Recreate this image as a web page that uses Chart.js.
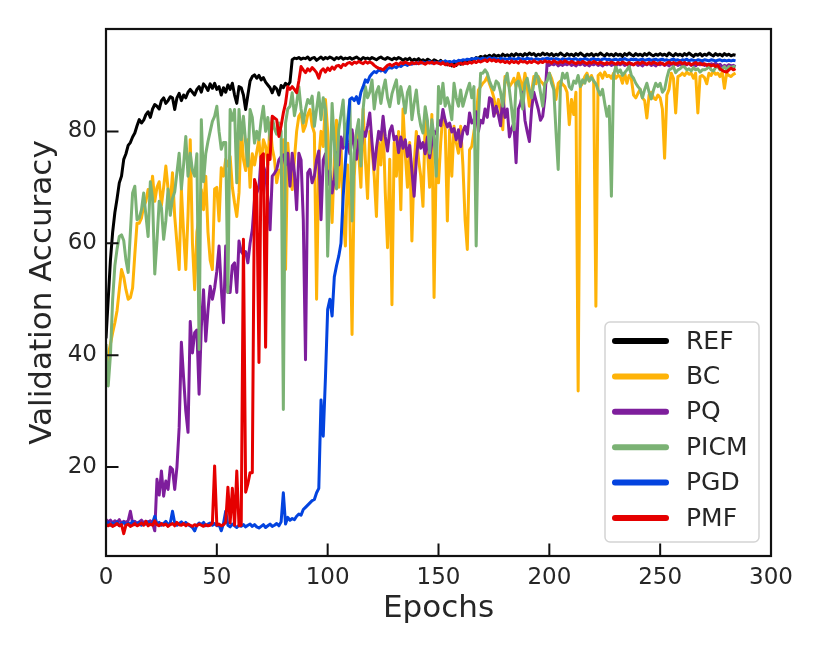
<!DOCTYPE html>
<html><head><meta charset="utf-8">
<script src="https://cdn.jsdelivr.net/npm/chart.js@4.4.1/dist/chart.umd.min.js"></script>
<style>html,body{margin:0;padding:0;background:#fff}#wrap{width:822px;height:658px}</style>
</head><body><div id="wrap"><canvas id="c" width="822" height="658"></canvas></div>
<script>
const seriesNames = ['REF','BC','PQ','PICM','PGD','PMF'];
const xTicks = [0,50,100,150,200,250,300];
const yTicks = [20,40,60,80];

const REF = [
43,50,57,62,65.5,68,70.8,72,75,76,
77.5,78,79,79.7,81,82.1,81.5,82,83,83.5,
82.5,84,84.8,84.5,84,85.5,86,85,85.5,86.2,
86,83.9,86,86.8,85.5,86.5,86,87,87.5,87,
86.5,87.5,88,87,88.5,88,87.3,88.5,87.7,88.6,
87.5,88,86.5,87.8,87,88.3,87.5,88.6,86.5,85,
88,87.8,86.5,83.9,86.5,89,89.8,90.1,89.5,90,
89.2,89.6,88.8,88.3,87.8,86.9,88,87.6,86.5,88.2,
87.8,88.6,88.2,88.8,92.8,93.1,93,93.2,92.9,93.1,
93,93.3,92.8,93.1,93.2,92.7,93,93.3,92.9,93.2,
93,93.3,93.1,92.8,93.2,93,93.3,92.9,93.1,93,
93.2,92.9,93.1,93.3,93,92.8,93.2,93,93.1,92.9,
93.2,93,92.8,93.1,93.3,93,92.9,93.2,93,92.8,
93.1,92.9,93.2,93,92.7,93,92.8,93.1,92.6,92.9,
92.7,93,92.6,92.8,92.5,92.9,92.7,92.4,92.8,92.6,
92.3,92.7,92.2,92.5,91.9,92.4,91.7,92.2,91.8,92.3,
92,92.5,92.2,92.8,92.5,93,92.7,93.2,93,93.4,
93.2,93.5,93.3,93.6,93.3,93.7,93.4,93.6,93.3,93.8,
93.5,93.7,93.4,93.8,93.5,93.9,93.6,93.8,93.5,93.9,
93.6,94,93.7,93.9,93.5,93.8,93.6,94,93.7,93.9,
93.6,93.9,93.5,93.8,93.6,94,93.7,93.5,93.9,93.6,
93.8,93.5,93.9,93.6,94,93.7,93.4,93.8,93.6,93.9,
93.5,93.8,93.6,94,93.7,93.5,93.9,93.6,93.8,93.5,
93.9,93.6,93.8,93.4,93.9,93.6,94,93.7,93.5,93.9,
93.6,93.8,93.5,93.9,93.6,94,93.7,93.5,93.8,93.6,
93.9,93.6,93.8,93.5,94,93.7,93.5,93.9,93.6,93.8,
93.5,93.9,93.6,94,93.7,93.4,93.8,93.6,93.9,93.5,
93.8,93.6,94,93.7,93.5,93.9,93.6,93.8,93.5,93.9,
93.6,93.8,93.5,93.7,93.6];

const BC = [
34.5,40,42,44,45.8,48,51.7,55.3,54,51.7,
50,50.3,52,58,63.6,63.6,64.5,66.6,67.5,69.6,
68,72,67.5,70,71,66.8,70,73.8,69.7,67,
72.6,64.8,60,55.3,69.7,62,55.3,65,78.5,60,
51.7,62,64.5,69.6,66,72,62,57,55.3,69.7,
70,64,73.5,72,75,73.8,75.5,70,67.2,64.8,
69,80.9,75,73,78.5,70,76,74,76.3,78.5,
74,78.5,77.3,74,81.5,77,75,70.8,73,73.2,
78.5,55.3,77.9,72,69.6,75,80,82.7,83.3,80,
81,83,83.9,81,79.7,50,75,80,77.3,85.7,
80,72,63.7,75,82,70,78,65,59.5,74,
66,43.7,72,80,76,70,84,75,68,80,
77,72,64.8,78,74,82,69,59.2,75,49,
78,72,80,66,84,76,70,78,60.4,74,
80,75,72,66.6,82,77,70,83,50.3,76,
70.8,78,83.3,80.9,64,80.3,72,80.9,78,76.1,
80.9,74,64.2,58.9,76.7,77.3,80,82.1,87.4,88,
88.6,89,89.8,88.5,87.4,86,83.3,85.7,84,80.3,
89.8,89,88,88.6,89.5,88,90.4,89,87.4,90.4,
88,84.5,87,89.8,88.5,89.8,89,88.6,88,89.5,
90.4,89.5,88,85.7,88.6,89,88.4,88,87,81.2,
85.7,83,87,33.6,88,88.6,89.8,90.4,89,90,
89,48.75,90,90.4,89.5,90.6,89.8,90,89.5,90.4,
89.5,90,89.8,88.6,90.4,88.6,90,89.4,86.5,86,
86.8,87.5,86,85.5,82.4,86.5,87,86,85.7,86.5,
86,84,75.2,86.5,87.5,90.4,89.5,83.3,89.8,90,
90.4,90,90.6,90.2,90.4,89.5,90.4,83.3,89.8,90,
89.6,88.5,90.4,90,90.8,90.2,90.4,89.8,90.6,87.7,
90.4,90,89.8,90.2,90.4];

const PQ = [
10.6,10.2,10.5,10,10.4,10.1,10.6,9.9,10.3,10.1,
10.4,12.1,10,10.3,9.9,10.2,10.5,10,10.3,10.1,
10.4,10,8.6,17.8,15,19.3,14.8,17.5,16,20,
19.6,16,20,27,42.3,36,30,26.2,46,40.4,
44,44.5,33,45,51.7,42.5,48,52.3,50,52,
55,59.5,52,45.8,59.5,51.2,51.2,56,56.5,51.2,
60.4,58.5,58,58.5,56.5,60,62.4,67.8,69,70,
75.5,73.8,72.6,68,62.4,72,72.5,73.2,74.9,75.5,
75.8,74,76.1,70.2,76.1,72.6,66,76.1,74.9,64.2,
39.2,72.6,73.2,70.8,72,74.9,76.5,64.2,74.9,76,
70.5,73,69,71.4,76.2,74,79,77,80.5,78,
76,80.3,77,75,78.5,76.5,80,79.1,81,83.3,
78,73.2,77,80,78.5,82.7,79,76.5,80,81,
78.5,79.1,76.2,79,77,78.5,75.5,77.5,73,68.4,
75,79.1,77,78,76,79,75.3,78,80,79.5,
82,81,83.9,82,80.8,81.5,79.9,80.5,78.5,80.3,
77.3,80,80.9,79.5,83.3,81.5,82,83.5,80,82,
81.5,84,82.5,86,85.7,82.7,84.5,83,81,86.3,
82.5,84,79,80.5,81.5,74.4,84,85,87,82,
80,78.2,84,87,85.5,84,82,82.7,86,92.2,
91.8,92.1,91.9,92.2,91.7,92,91.8,92.1,91.9,92.2,
91.8,92,91.7,92.1,91.9,92.2,91.8,92,91.7,92.1,
91.9,92.2,91.8,92,91.7,92.1,91.9,92.2,91.8,92,
91.7,92.1,91.9,92.2,91.8,92,91.7,92.1,91.9,92.2,
91.8,92,91.7,92.1,91.9,92.2,91.8,92,91.7,92.1,
91.9,92.2,91.8,92,91.7,92.1,91.9,92.2,91.8,92,
91.7,92.1,91.9,92.2,91.8,92,91.7,92.1,91.9,92.2,
91.8,92,91.7,92.1,91.9,92.2,91.8,92,91.5,91.8,
91.6,91.9,91.7,91.8,91.6];

const PICM = [
42,34.5,40,50,56,59,61.2,61.5,60.5,57,
54.8,62,69,70.2,64.2,64.5,66,69,65,61.2,
71,68,54.5,60.5,67.5,66.4,60.7,64,69.7,65,
68,69.2,72.6,76.1,69.7,74,79.1,72,76.1,73,
72,76,41,82.1,71,76,78.2,80,81.8,82.7,
84.5,80,76.8,78,78,51.2,83.9,82,83.9,70.8,
83.9,78.5,82.7,78,73.8,83.9,82.5,77.9,80,78.5,
82,84.5,80,82.5,78.5,82.5,80.5,79.5,81.5,80,
30.3,81.5,84,84.5,86.9,82.8,85,88,84,81.5,
84,85.7,85,86.3,80.9,84,86.9,82.1,86,84,
57.7,70.6,85,78,69.7,80.3,83,85.6,77.5,82,
85.6,64,76.1,80,82.1,73.8,84,88,86,87,
89.2,84,87,88,85,87.5,89.2,86,84.4,86.7,
88,89.2,85,88,86,83.3,87,88,82.1,85,
87.4,83.3,81,79.7,84.4,82,76.1,82.1,79,72,
88,85,88.6,84.5,86,84.5,82.1,88.6,86,84.5,
87.4,84.5,86,87.4,88.6,86,88,59.5,82,90.4,
90.4,91,90.4,89,88,87.4,89,88.6,87,84.5,
89,90.4,87.4,84,80.3,88.6,89,87.4,84,88.6,
89.5,87.4,86,88.6,90.4,89.5,87,84.5,88.6,89,
90.4,88.6,87.5,80,73.2,88,90.4,89.5,90.4,88,
87.5,89,88.6,90,88,89.2,88.6,90,89,89.6,
89,88.5,87.4,86.5,87.5,85,82.7,84.5,68.4,90,
91.6,90.5,91,90,90.5,91,91.6,90,89.5,88.6,
88,87.5,86,87.5,88.6,87,85.8,87.4,88.6,88,
88.6,87,87.5,89.5,91,91.2,91.6,90.5,91,91.2,
91.6,91.5,91,91.2,90.8,91.4,91,91.2,90.6,91,
91,91.2,91.6,91,90.8,91.4,91.6,91,91.2,91.6,
91,91.6,91.4,91.6,91.6];

const PGD = [
9.8,10.1,9.6,10,9.7,10.2,9.5,9.9,10.1,9.6,
10,9.8,10.3,9.7,9.9,10.1,9.6,10,9.8,10.2,
9.7,10,11.2,9.8,10.1,9.6,9.9,10.3,9.7,10,
12.1,10,9.6,9.9,10.2,9.8,10.1,9.7,9.5,9.2,
8.6,9.6,10,9.7,10.1,9.5,9.8,10,9.6,9.9,
9.5,9.7,8.6,9.9,12.1,9.6,9.3,9.8,9.5,9.2,
9.6,9.4,9.7,9.3,9.6,9.8,9.4,9.7,9.3,9.1,
9.4,9.7,9.2,9.5,9.8,9.4,9.6,9.9,9.5,10.2,
15.4,9.8,11,10.5,10.8,10.6,11.2,11.6,11.4,12.4,
12.8,13.2,13.6,14,14.2,15.4,16.2,32,25.5,36,
48.2,50,47,54,56,57.7,60,68.4,74.4,80,
85.7,86,85.5,86.2,85,87,88,89.2,88.8,89.8,
90.3,90.7,90.5,91,90.8,91,90.6,91.2,91.4,91.3,
91.6,91.4,91.8,91.6,91.9,92,91.8,92.1,92,92.2,
92.1,92.3,92.2,92.4,92.2,92.3,92.5,92.2,92.4,92.3,
92.2,92.5,92.3,92.6,92.4,92.5,92.3,92.6,92.4,92.7,
92.6,92.8,92.7,92.9,92.8,93,92.9,93.1,93,92.9,
93.1,92.9,93,93.2,92.9,93.1,93,92.8,93.1,92.9,
93,92.8,93.1,92.9,93,92.8,93.1,92.9,93,92.8,
93.1,92.9,93,92.7,93,92.9,92.8,93,92.9,93.1,
92.9,93,92.8,93,92.9,92.7,93,92.8,92.9,93,
92.8,92.9,93,92.7,92.9,92.8,93,92.9,92.7,92.9,
93,92.8,92.9,92.7,92.9,93,92.8,92.9,92.7,92.8,
92.9,92.7,92.9,92.8,93,92.8,92.7,92.9,92.8,92.9,
92.7,92.8,92.9,92.7,92.8,92.9,92.7,92.8,92.9,92.7,
92.8,92.9,92.7,92.8,92.6,92.8,92.9,92.7,92.8,92.6,
92.8,92.7,92.9,92.6,92.8,92.7,92.6,92.8,92.7,92.6,
92.8,92.7,92.6,92.8,92.7,92.6,92.7,92.8,92.6,92.7,
92.6,92.7,92.6,92.7,92.6];

const PMF = [
9.7,9.5,9.8,9.4,9.6,9.9,9.5,9.7,8.1,9.6,
9.8,9.4,9.6,9.9,9.5,9.7,10,9.6,10.3,9.5,
9.8,9.6,10.4,9.7,9.5,9.9,9.6,9.8,9.4,9.7,
9.9,9.5,10.1,9.7,9.6,9.9,9.5,9.8,9.6,9.4,
9.7,9.5,9.8,9.6,9.4,9.7,9.5,9.6,10,20.2,
9.6,9.8,9.5,9.7,10.1,16.4,10,16.2,9.6,19.3,
9.5,9.6,60.7,15.5,17,19,19,71.4,70,38.7,
75.5,76,41.4,75.8,75,82.7,82.4,82.1,79.1,81,
83.3,85,88,87.5,88,87.5,86.9,89,91.6,91,
90.5,91.2,90.8,91.4,91,90.5,89.5,90.8,91.2,90.6,
91.3,90.9,91.5,91.1,91.7,91.8,91.4,92,91.8,92.2,
92.3,92,92.4,92.2,92.5,92.3,92.1,92.5,92.2,92.4,
92.2,91.8,91.5,91.3,91.2,91,91.4,91.8,92,91.7,
92,92.2,91.9,92.3,92.1,92.4,92.2,92,92.3,92.1,
92.3,92.1,92.4,92.2,92,92.3,92.2,92.4,92.1,92.3,
92.2,92,92.3,91.9,92.1,91.8,92,91.6,91.9,92.1,
92.2,92,92.3,92.1,92.4,92.2,92.5,92.3,92.6,92.4,
92.6,92.8,92.5,92.9,92.6,92.8,92.5,92.7,92.4,92.6,
92.3,92.5,92.2,92.6,92.3,92.5,92.2,92.6,92.4,92.5,
92.2,92.5,92.3,92.6,92.4,92.2,92.5,92.3,92.6,92.4,
92.5,92.2,92.6,92.4,92.2,92.5,92.3,92.6,92.4,92.2,
92.5,92.3,92.1,92.4,92.2,92.5,92.3,92.1,92.4,92.2,
92.5,92.3,92.1,92.4,92.2,92,92.3,92.1,92.4,92.2,
92,92.3,92.1,92.4,92.2,92,92.3,92.1,91.9,92.2,
92.3,92.1,92.4,92.2,92,92.3,92.1,92.4,92.2,92,
92.3,92.1,91.9,92.2,92.4,92.1,92.3,92,92.2,92.4,
92.1,92.3,92,92.2,91.9,92.1,92.3,92,92.2,91.9,
92.1,91.8,92,91.7,91.9,91.6,91.8,91.2,90.9,90.7,
90.6,91,91.3,91,91.2];

const seriesValues = [REF, BC, PQ, PICM, PGD, PMF];
const seriesColors = ['#000000', '#feb308', '#7e1e9c', '#7bb274', '#0343df', '#e50000'];

const FONT = "'DejaVu Sans', 'Liberation Sans', sans-serif";
const TEXT = '#262626';

const datasets = seriesNames.map((name, k) => ({
  label: name,
  data: seriesValues[k].map((v, i) => ({x: i, y: v})),
  borderColor: seriesColors[k],
  backgroundColor: seriesColors[k],
  borderWidth: 3,
  pointRadius: 0,
  tension: 0,
  fill: false,
  borderJoinStyle: 'round',
  borderCapStyle: 'butt',
  order: seriesNames.length - k
}));

const framePlugin = {
  id: 'frame',
  afterDraw(chart) {
    const {ctx, chartArea: a, scales} = chart;
    ctx.save();
    ctx.strokeStyle = '#111';
    ctx.lineWidth = 2;
    // inward ticks
    ctx.beginPath();
    xTicks.forEach(v => {
      const px = scales.x.getPixelForValue(v);
      ctx.moveTo(px, a.bottom); ctx.lineTo(px, a.bottom - 12.5);
    });
    yTicks.forEach(v => {
      const py = scales.y.getPixelForValue(v);
      ctx.moveTo(a.left, py); ctx.lineTo(a.left + 12.5, py);
    });
    ctx.stroke();
    ctx.lineWidth = 2.2;
    ctx.strokeRect(a.left, a.top, a.right - a.left, a.bottom - a.top);

    // legend box
    const bw = 154, bh = 220;
    const bx = a.right - 12 - bw, by = a.bottom - 14 - bh;
    ctx.beginPath();
    if (ctx.roundRect) ctx.roundRect(bx, by, bw, bh, 5); else ctx.rect(bx, by, bw, bh);
    ctx.fillStyle = 'rgba(255,255,255,0.85)';
    ctx.fill();
    ctx.strokeStyle = '#d4d4d4';
    ctx.lineWidth = 1.5;
    ctx.stroke();
    ctx.font = '25px ' + FONT;
    ctx.textBaseline = 'middle';
    ctx.textAlign = 'left';
    seriesNames.forEach((name, k) => {
      const ly = by + 19 + k * 35.4;
      ctx.beginPath();
      ctx.strokeStyle = seriesColors[k];
      ctx.lineWidth = 6;
      ctx.lineCap = 'round';
      ctx.moveTo(bx + 10, ly); ctx.lineTo(bx + 61, ly);
      ctx.stroke();
      ctx.fillStyle = TEXT;
      ctx.fillText(name, bx + 81, ly + 1);
    });
    ctx.restore();
  }
};

new Chart(document.getElementById('c'), {
  type: 'line',
  data: { datasets },
  options: {
    responsive: false,
    animation: false,
    devicePixelRatio: 1,
    layout: { padding: { left: 0, top: 29, right: 51, bottom: 0 } },
    plugins: { legend: { display: false }, tooltip: { enabled: false } },
    scales: {
      x: {
        type: 'linear', min: 0, max: 300,
        afterBuildTicks: s => { s.ticks = xTicks.map(v => ({value: v})); },
        afterFit: s => { s.height = 102; },
        grid: { display: false, drawTicks: false },
        border: { display: false },
        ticks: { autoSkip: false, maxRotation: 0, padding: 8, color: TEXT, font: { family: FONT, size: 23 } },
        title: { display: true, text: 'Epochs', color: TEXT, font: { family: FONT, size: 31 }, padding: { top: 0, bottom: 30 } }
      },
      y: {
        type: 'linear', min: 4.1, max: 98.3,
        afterBuildTicks: s => { s.ticks = yTicks.map(v => ({value: v})); },
        afterFit: s => { s.width = 106; },
        grid: { display: false, drawTicks: false },
        border: { display: false },
        ticks: { padding: 9, color: TEXT, font: { family: FONT, size: 23 } },
        title: { display: true, text: 'Validation Accuracy', color: TEXT, font: { family: FONT, size: 31 }, padding: { top: 24, bottom: 0 } }
      }
    }
  },
  plugins: [framePlugin]
});
</script>
</body></html>
